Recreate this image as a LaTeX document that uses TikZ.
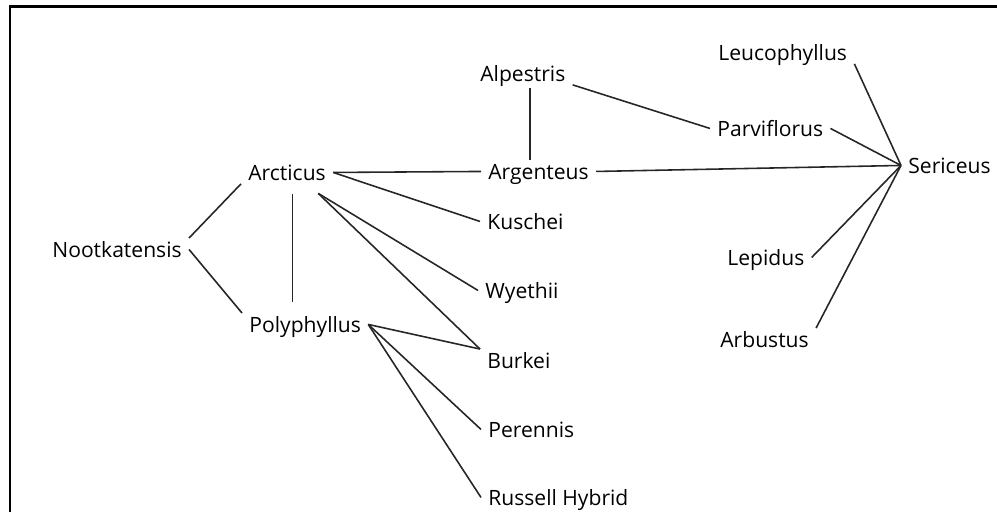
\documentclass[tikz,border=0pt]{standalone}
\usepackage{fontspec}
\setmainfont{Open Sans}

\begin{document}
\begin{tikzpicture}[x=0.02cm, y=-0.02cm,
    sp/.style={anchor=base west, inner xsep=4pt, inner ysep=2pt,
      text height=8.6pt, text depth=0pt,
      font=\fontsize{12}{14}\selectfont, text=black},
    ln/.style={line width=0.9pt, black!85}]
  \useasboundingbox (0,0) rectangle (997,512);
  % frame (top and left only)
  \draw[line width=1.7pt] (10,512) -- (10,6) -- (997,6);

  % species
  \node[sp] (noot) at (45,257) {Nootkatensis};
  \node[sp] (arct) at (241,180) {Arcticus};
  \node[sp] (poly) at (242,332) {Polyphyllus};
  \node[sp] (alps) at (473,81) {Alpestris};
  \node[sp] (argt) at (481,179) {Argenteus};
  \node[sp] (kusc) at (480,229) {Kuschei};
  \node[sp] (wyet) at (478,298) {Wyethii};
  \node[sp] (burk) at (480,368) {Burkei};
  \node[sp] (pere) at (481,437) {Perennis};
  \node[sp] (russ) at (481,505) {Russell Hybrid};
  \node[sp] (leuc) at (711,60) {Leucophyllus};
  \node[sp] (parv) at (710,136) {Parviflorus};
  \node[sp] (seri) at (901,173) {Sericeus};
  \node[sp] (lepi) at (720,265) {Lepidus};
  \node[sp] (arbu) at (713,347) {Arbustus};

  % links
  \draw[ln] (noot.north east) -- (arct.south west);
  \draw[ln] (noot.east) -- (poly.north west);
  \draw[ln, shorten <=6pt, shorten >=6pt] ([xshift=3pt]arct.south) -- ([xshift=3pt]arct.south |- poly.north);
  \draw[ln] (arct.east) -- (argt.west);
  \draw[ln] (arct.east) -- (kusc.west);
  \foreach \t/\a in {wyet/west, burk/north west}
    \draw[ln] ([xshift=-8.5pt, yshift=-5.4pt]arct.south east) -- (\t.\a);
  \foreach \t/\a in {burk/north west, pere/west, russ/west}
    \draw[ln] (poly.east) -- (\t.\a);
  \draw[ln, shorten <=2pt] ([xshift=4pt]alps.south) -- ([xshift=4pt]alps.south |- argt.north);
  \draw[ln] (alps.south east) -- (parv.west);
  \foreach \s/\a in {leuc/south east, parv/east, argt/east, lepi/east, arbu/north east}
    \draw[ln] (\s.\a) -- (seri.west);
\end{tikzpicture}
\end{document}
